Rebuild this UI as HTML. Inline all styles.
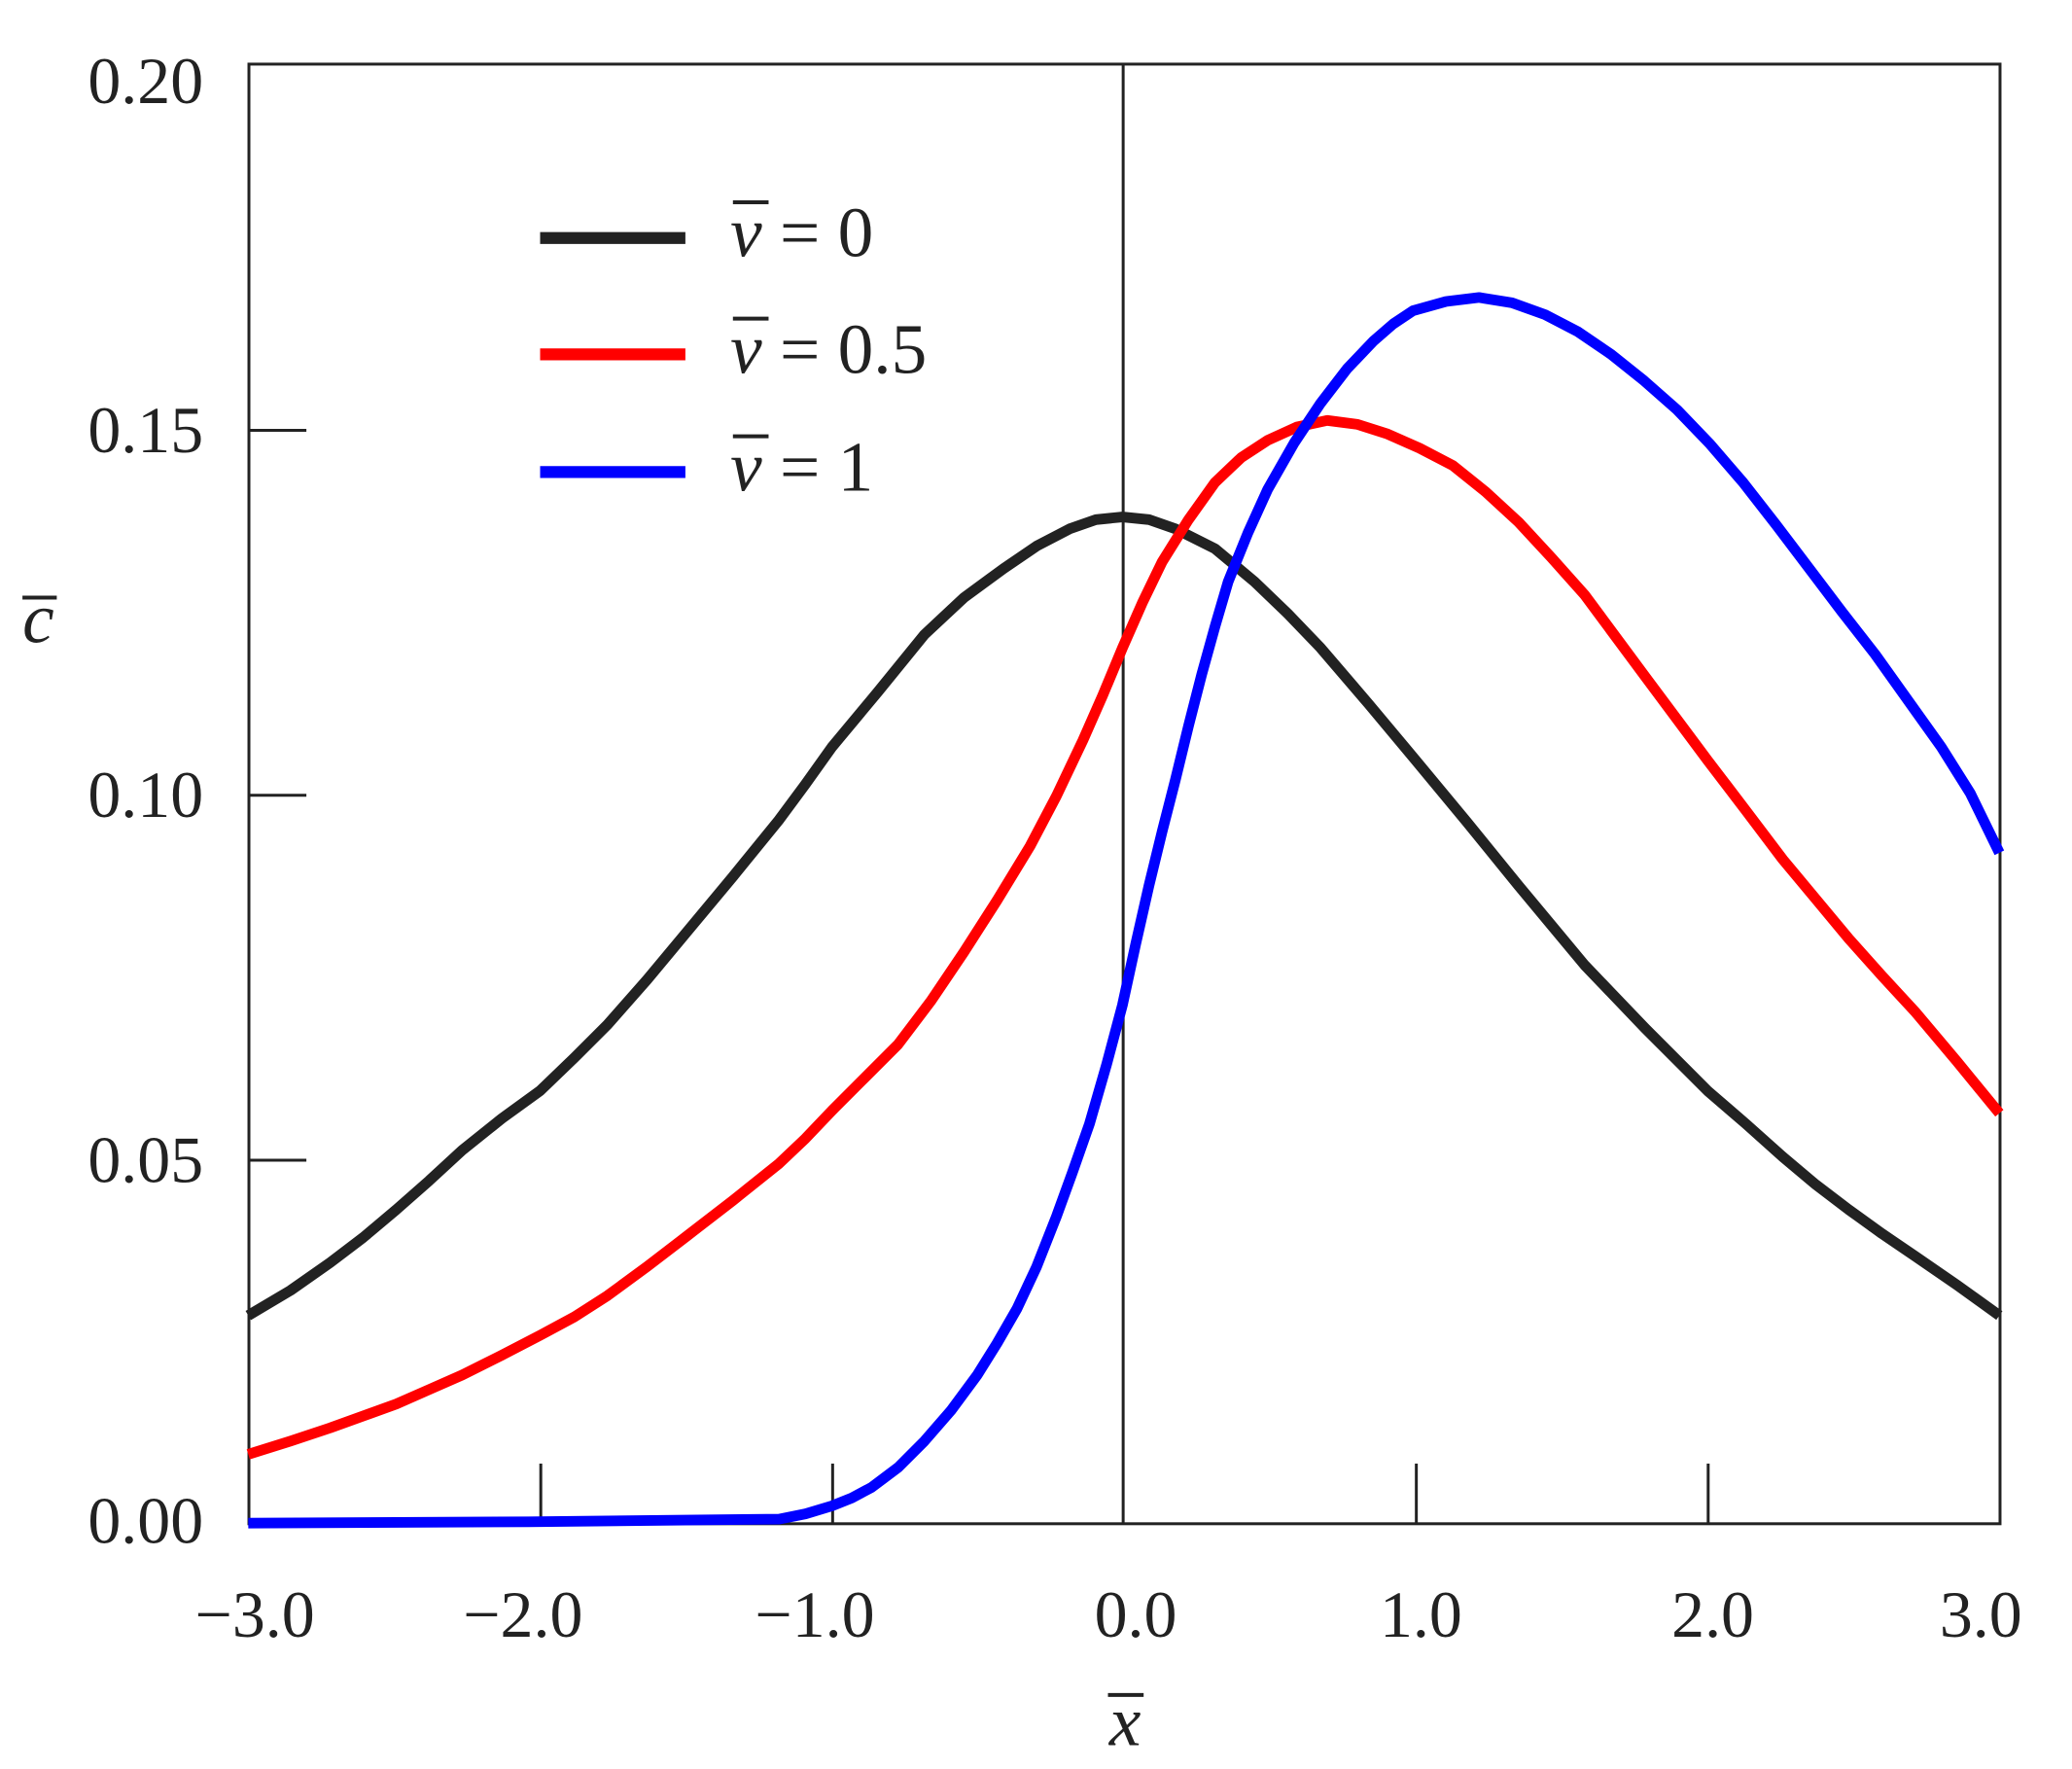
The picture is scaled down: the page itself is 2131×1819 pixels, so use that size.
<!DOCTYPE html>
<html><head><meta charset="utf-8"><style>html,body{margin:0;padding:0;background:#fff;}svg{display:block}</style></head>
<body>
<svg width="2131" height="1819" viewBox="0 0 1569 1338" preserveAspectRatio="none" xmlns="http://www.w3.org/2000/svg" font-family="Liberation Serif, serif" fill="#222">
<rect x="0" y="0" width="1569" height="1338" fill="#fff"/>
<g stroke="#222" stroke-width="2.2" fill="none">
<rect x="188.5" y="48.5" width="1326" height="1104"/>
<line x1="850.5" y1="48" x2="850.5" y2="1152"/>
<line x1="409.5" y1="1107" x2="409.5" y2="1152"/>
<line x1="630.5" y1="1107" x2="630.5" y2="1152"/>
<line x1="1072.5" y1="1107" x2="1072.5" y2="1152"/>
<line x1="1293.5" y1="1107" x2="1293.5" y2="1152"/>
<line x1="188" y1="325.5" x2="232" y2="325.5"/>
<line x1="188" y1="601.5" x2="232" y2="601.5"/>
<line x1="188" y1="877.5" x2="232" y2="877.5"/>
</g>
<g fill="none" stroke-width="8" stroke-linejoin="round" stroke-linecap="butt">
<polyline stroke="#222" points="188,995 220,976 250,955 275,936 300,915 325,893 350,870 380,846 409,825 435,800 460,775 490,741 520,705 555,663 590,620 610,593 630,565 665,523 700,480 730,452 760,430 785,413 810,400 830,393 850,391 870,393 890,400 920,415 950,440 975,464 1000,490 1036,532 1072,575 1111,622 1150,670 1175,700 1200,730 1246,778 1293,825 1322,850 1350,875 1375,896 1400,915 1425,933 1450,950 1482,972 1514,995"/>
<polyline stroke="#f00" points="188,1100 220,1090 250,1080 275,1071 300,1062 325,1051 350,1040 380,1025 409,1010 435,996 460,980 490,958 520,935 555,908 590,880 610,861 630,840 655,815 680,790 705,757 730,720 755,681 780,640 800,602 820,560 835,526 850,490 865,456 880,425 900,393 920,365 940,346 960,333 982,323 1005,318 1028,321 1050,328 1075,339 1100,352 1125,372 1150,395 1175,422 1200,450 1246,512 1293,575 1322,613 1350,650 1375,680 1400,710 1425,738 1450,765 1482,803 1514,842"/>
<polyline stroke="#00f" points="188,1152 400,1151 590,1149 610,1145 630,1139 645,1133 660,1125 680,1110 700,1090 720,1067 740,1040 755,1016 770,990 785,958 800,920 812,887 825,850 838,805 850,760 860,714 870,670 880,629 890,590 900,549 910,510 920,474 930,440 945,403 960,370 980,335 1000,305 1020,279 1040,258 1055,245 1070,235 1095,228 1120,225 1145,229 1170,238 1195,251 1220,268 1245,288 1270,310 1295,336 1320,365 1345,397 1370,430 1395,463 1420,495 1445,530 1470,565 1492,600 1514,645"/>
</g>
<g font-size="50" text-anchor="end">
<text x="154" y="78">0.20</text>
<text x="154" y="342">0.15</text>
<text x="154" y="618">0.10</text>
<text x="154" y="894">0.05</text>
<text x="154" y="1167">0.00</text>
</g>
<g font-size="50" text-anchor="middle">
<text x="193" y="1238">−3.0</text>
<text x="396" y="1238">−2.0</text>
<text x="617" y="1238">−1.0</text>
<text x="860" y="1238">0.0</text>
<text x="1076" y="1238">1.0</text>
<text x="1297" y="1238">2.0</text>
<text x="1500" y="1238">3.0</text>
</g>
<g font-size="54" font-style="italic">
<text x="840" y="1320">x</text><line x1="839" y1="1282" x2="866" y2="1282" stroke="#222" stroke-width="3"/>
<text x="17" y="486">c</text><line x1="17" y1="452" x2="43" y2="452" stroke="#222" stroke-width="3"/>
</g>
<g stroke-width="9">
<line x1="409" y1="180" x2="519" y2="180" stroke="#222"/>
<line x1="409" y1="268" x2="519" y2="268" stroke="#f00"/>
<line x1="409" y1="357" x2="519" y2="357" stroke="#00f"/>
</g>
<g font-size="54">
<text x="553" y="194"><tspan font-style="italic">v</tspan> = 0</text>
<text x="553" y="282"><tspan font-style="italic">v</tspan> = 0.5</text>
<text x="553" y="371"><tspan font-style="italic">v</tspan> = 1</text>
</g>
<g stroke="#222" stroke-width="3">
<line x1="555" y1="153" x2="582" y2="153"/>
<line x1="555" y1="241" x2="582" y2="241"/>
<line x1="555" y1="330" x2="582" y2="330"/>
</g>
</svg>
</body></html>
